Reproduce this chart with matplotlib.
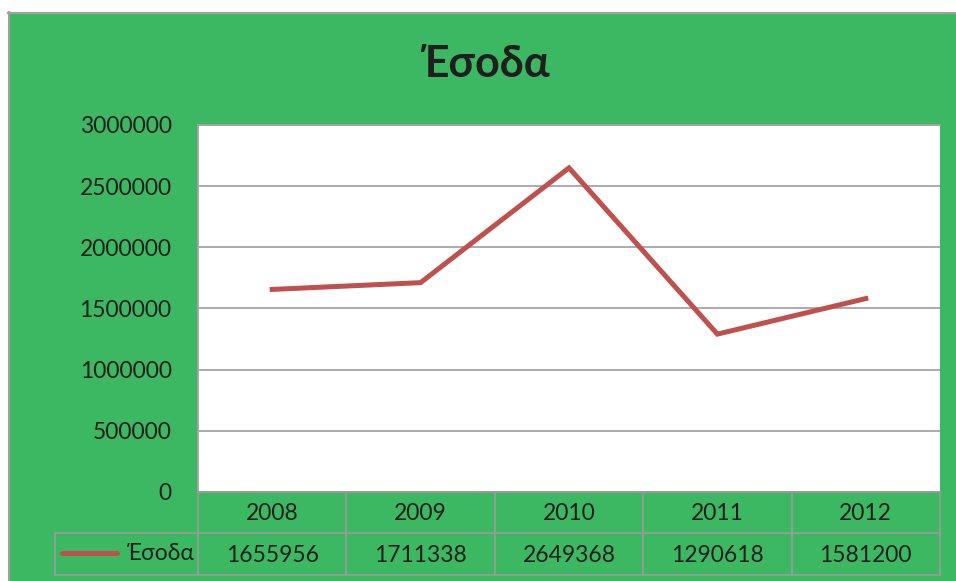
import matplotlib.pyplot as plt
from matplotlib.lines import Line2D
from matplotlib.patches import Rectangle

# Chart data
years = ['2008', '2009', '2010', '2011', '2012']
revenue = [1655956, 1711338, 2649368, 1290618, 1581200]
series_name = 'Έσοδα'
y_ticks = [0, 500000, 1000000, 1500000, 2000000, 2500000, 3000000]

green = '#3DB862'
red = '#C0504D'
grid_gray = '#A5A5A5'
txt = '#1F1F1F'
fonts = ['Lato', 'Noto Sans', 'DejaVu Sans']

W, H = 956, 581
fig = plt.figure(figsize=(W / 100, H / 100), dpi=100, facecolor='white')


def fx(px):
    return px / W


def fy(py):
    return 1 - py / H


# green chart background with grey border on left/top
fig.add_artist(Rectangle((fx(8), 0), 1 - fx(8), fy(12), transform=fig.transFigure,
                         facecolor=green, edgecolor='none', zorder=0))
fig.add_artist(Line2D([fx(8.5), fx(8.5)], [0, fy(12)], transform=fig.transFigure,
                      color='#A0A0A0', lw=1.5))
fig.add_artist(Line2D([fx(8), 1], [fy(12.5), fy(12.5)], transform=fig.transFigure,
                      color='#A0A0A0', lw=1.5))

# plot area
left, right, top, bottom = 198, 940, 125, 492
ax = fig.add_axes([fx(left), fy(bottom), fx(right - left), (bottom - top) / H])
ax.set_facecolor('white')
x = list(range(len(years)))
ax.plot(x, revenue, color=red, lw=3.6, solid_joinstyle='miter', zorder=3)
ax.set_xlim(-0.5, len(years) - 0.5)
ax.set_ylim(0, 3000000)
ax.set_yticks(y_ticks)
ax.set_yticklabels([str(v) for v in y_ticks], family=fonts, fontsize=16.5, color=txt)
ax.set_xticks([])
ax.tick_params(axis='y', length=0, pad=19)
ax.grid(axis='y', color=grid_gray, lw=1.3)
ax.set_axisbelow(True)
for s in ['top', 'left']:
    ax.spines[s].set_color(grid_gray)
    ax.spines[s].set_linewidth(1.3)
for s in ['right', 'bottom']:
    ax.spines[s].set_visible(False)

# title
fig.text(fx(485), fy(64), series_name, ha='center', va='center', family=fonts,
         fontsize=31, fontweight='bold', color=txt)

# data table under the plot
col_edges = [198 + i * (940 - 198) / len(years) for i in range(len(years) + 1)]
row1_top, row2_top, row2_bot = 492, 533, 575
tab_left = 55
tcol = '#9A9A9A'


def hline(x0, x1, y):
    fig.add_artist(Line2D([fx(x0), fx(x1)], [fy(y), fy(y)], transform=fig.transFigure,
                          color=tcol, lw=1.3))


def vline(xp, y0, y1):
    fig.add_artist(Line2D([fx(xp), fx(xp)], [fy(y0), fy(y1)], transform=fig.transFigure,
                          color=tcol, lw=1.3))


hline(col_edges[0], col_edges[-1], row1_top)
hline(tab_left, col_edges[-1], row2_top)
hline(tab_left, col_edges[-1], row2_bot)
for xe in col_edges:
    vline(xe, row1_top, row2_bot)
vline(tab_left, row2_top, row2_bot)

for i, (yr, v) in enumerate(zip(years, revenue)):
    cx = (col_edges[i] + col_edges[i + 1]) / 2
    fig.text(fx(cx), fy((row1_top + row2_top) / 2 + 1), yr, ha='center', va='center',
             family=fonts, fontsize=16.5, color=txt)
    fig.text(fx(cx), fy((row2_top + row2_bot) / 2 + 1), str(v), ha='center', va='center',
             family=fonts, fontsize=16.5, color=txt)

# legend key inside table
fig.add_artist(Line2D([fx(62), fx(117)], [fy(553), fy(553)], transform=fig.transFigure,
                      color=red, lw=3.6, solid_capstyle='round'))
fig.text(fx(195), fy(553), series_name, ha='right', va='center', family=fonts,
         fontsize=16.5, color=txt)

fig.savefig('out.png', dpi=100, facecolor='white')
